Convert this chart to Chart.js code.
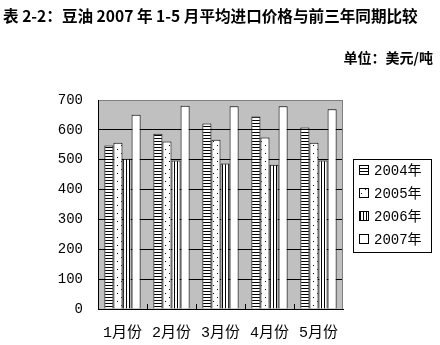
<!DOCTYPE html>
<html>
<head>
<meta charset="utf-8">
<script src="https://cdn.jsdelivr.net/npm/chart.js@4"></script>
<style>
    body { margin: 0; background: #fff; }
    #wrap { position: relative; width: 440px; height: 345px; }
    #chart { position: absolute; left: 0; top: 0; }
    .title { position: absolute; left: 3px; top: 4px; font: bold 15.6px "Noto Sans CJK SC", sans-serif; color: #000; white-space: nowrap; }
    .unit { position: absolute; right: 7px; top: 47px; font: bold 14px "Noto Sans CJK SC", sans-serif; color: #000; white-space: nowrap; }
</style>
</head>
<body>
<div id="wrap">
    <canvas id="chart" width="440" height="345"></canvas>
    <div class="title">表 2-2：豆油 2007 年 1-5 月平均进口价格与前三年同期比较</div>
    <div class="unit">单位：美元/吨</div>
</div>
<script>
// data
const months = ['1月份', '2月份', '3月份', '4月份', '5月份'];
const seriesNames = ['2004年', '2005年', '2006年', '2007年'];
const price2004 = [548, 587, 621, 645, 608];
const price2005 = [557, 561, 567, 574, 557];
const price2006 = [503, 497, 487, 483, 497];
const price2007 = [651, 681, 679, 679, 669];
const yTicks = [0, 100, 200, 300, 400, 500, 600, 700];

const fontFamily = '"Liberation Mono", "Noto Sans CJK SC", monospace';

// fill patterns like the old excel hatching
function makePattern(kind) {
    const c = document.createElement('canvas');
    const ctx = c.getContext('2d');
    if (kind === 'h') {
        c.width = 3; c.height = 3;
        ctx.fillStyle = '#fff'; ctx.fillRect(0, 0, 3, 3);
        ctx.fillStyle = '#000'; ctx.fillRect(0, 0, 3, 1);
    } else if (kind === 'v') {
        c.width = 3; c.height = 3;
        ctx.fillStyle = '#fff'; ctx.fillRect(0, 0, 3, 3);
        ctx.fillStyle = '#000'; ctx.fillRect(0, 0, 1, 3);
    } else if (kind === 'd') {
        c.width = 8; c.height = 8;
        ctx.fillStyle = '#fff'; ctx.fillRect(0, 0, 8, 8);
        ctx.fillStyle = '#000';
        ctx.fillRect(1, 1, 1, 1);
        ctx.fillRect(5, 5, 1, 1);
    } else {
        c.width = 2; c.height = 2;
        ctx.fillStyle = '#fff'; ctx.fillRect(0, 0, 2, 2);
    }
    return ctx.createPattern(c, 'repeat');
}

const fills = [makePattern('h'), makePattern('d'), makePattern('v'), makePattern('w')];
const values = [price2004, price2005, price2006, price2007];

// gray plot background + gray top/right border + inside category ticks
const plotDeco = {
    id: 'plotDeco',
    beforeDraw(chart) {
        const a = chart.chartArea;
        const ctx = chart.ctx;
        ctx.save();
        ctx.fillStyle = '#c0c0c0';
        ctx.fillRect(a.left, a.top, a.right - a.left, a.bottom - a.top);
        ctx.restore();
    },
    afterDatasetsDraw(chart) {
        const a = chart.chartArea;
        const ctx = chart.ctx;
        const x = chart.scales.x;
        ctx.save();
        ctx.strokeStyle = '#808080';
        ctx.lineWidth = 1;
        ctx.beginPath();
        ctx.moveTo(a.right - 0.5, a.top);
        ctx.lineTo(a.right - 0.5, a.bottom);
        ctx.stroke();
        ctx.strokeStyle = '#000';
        ctx.beginPath();
        for (let i = 1; i < months.length; i++) {
            const px = Math.round((x.getPixelForValue(i - 1) + x.getPixelForValue(i)) / 2) + 0.5;
            ctx.moveTo(px, a.bottom);
            ctx.lineTo(px, a.bottom - 5);
        }
        ctx.stroke();
        ctx.restore();
    }
};

// boxed legend on the right
const boxLegend = {
    id: 'boxLegend',
    afterDraw(chart) {
        const ctx = chart.ctx;
        const left = 353, top = 159, w = 78, h = 93;
        ctx.save();
        ctx.strokeStyle = '#000';
        ctx.lineWidth = 1;
        ctx.strokeRect(left + 0.5, top + 0.5, w, h);
        chart.data.datasets.forEach((ds, i) => {
            const cy = 170 + i * 23;
            ctx.fillStyle = ds.backgroundColor;
            ctx.fillRect(359, cy - 5, 10, 10);
            ctx.strokeRect(359.5, cy - 4.5, 9, 9);
            ctx.fillStyle = '#000';
            ctx.font = '14px ' + fontFamily;
            ctx.textBaseline = 'middle';
            ctx.textAlign = 'left';
            ctx.fillText(ds.label, 374, cy + 1);
        });
        ctx.restore();
    }
};

const ctx = document.getElementById('chart').getContext('2d');
new Chart(ctx, {
    type: 'bar',
    data: {
        labels: months,
        datasets: seriesNames.map((name, i) => ({
            label: name,
            data: values[i],
            backgroundColor: fills[i],
            borderColor: '#000',
            borderWidth: 1,
            borderSkipped: 'bottom',
            categoryPercentage: 0.74,
            barPercentage: 1
        }))
    },
    options: {
        responsive: false,
        devicePixelRatio: 1,
        animation: false,
        layout: {
            padding: { top: 100, right: 97, bottom: 0, left: 0 }
        },
        plugins: {
            legend: { display: false },
            tooltip: { enabled: false }
        },
        scales: {
            y: {
                min: 0,
                max: 700,
                afterBuildTicks(scale) {
                    scale.ticks = yTicks.map(v => ({ value: v }));
                },
                afterFit(scale) { scale.width = 98; },
                ticks: {
                    padding: 15,
                    color: '#000',
                    font: { family: fontFamily, size: 14 }
                },
                grid: {
                    drawTicks: false,
                    color: c => (c.tick && c.tick.value === 700 ? '#808080' : '#000'),
                    lineWidth: 1
                },
                border: { color: '#000' }
            },
            x: {
                afterFit(scale) { scale.height = 36; },
                ticks: {
                    padding: 15,
                    color: '#000',
                    font: { family: fontFamily, size: 15 }
                },
                grid: { display: false, drawTicks: false },
                border: { color: '#000' }
            }
        }
    },
    plugins: [plotDeco, boxLegend]
});
</script>
</body>
</html>
